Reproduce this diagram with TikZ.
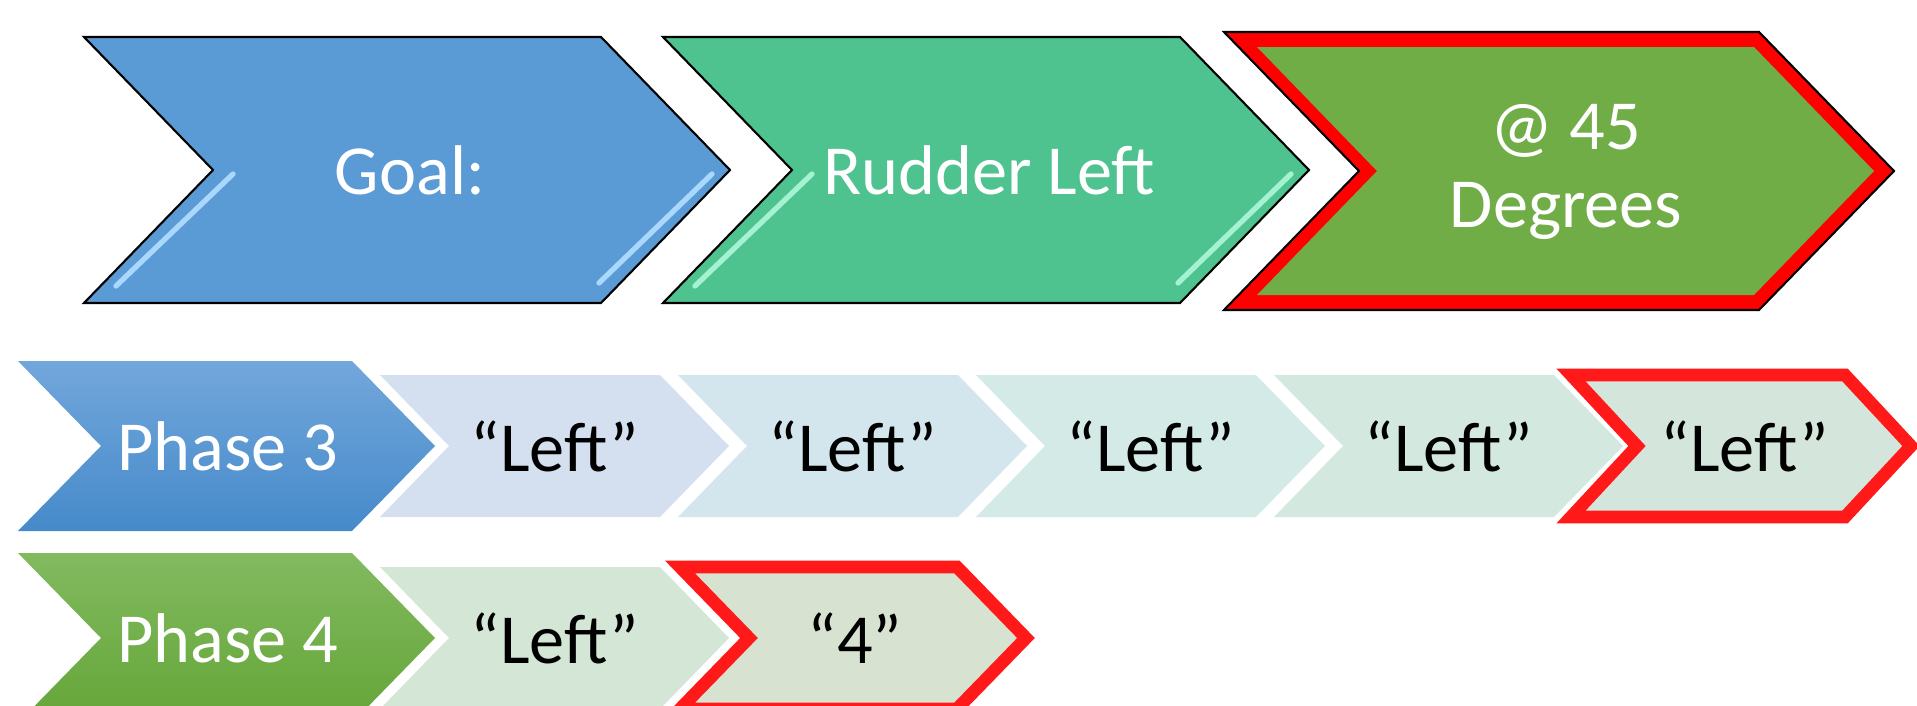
\documentclass[tikz,border=0pt]{standalone}
\usepackage{fontspec}
\setmainfont{Carlito}
\definecolor{goalblue}{RGB}{91,155,213}
\definecolor{rudgreen}{RGB}{79,195,143}
\definecolor{deggreen}{RGB}{112,173,71}
\definecolor{hlblue}{RGB}{170,216,252}
\definecolor{hlmint}{RGB}{165,242,210}
\definecolor{ph3top}{RGB}{114,167,219}
\definecolor{ph3bot}{RGB}{70,138,202}
\definecolor{ph4top}{RGB}{130,186,96}
\definecolor{ph4bot}{RGB}{100,165,55}
\definecolor{lfa}{RGB}{212,223,239}
\definecolor{lfb}{RGB}{211,229,237}
\definecolor{lfc}{RGB}{211,234,230}
\definecolor{lfd}{RGB}{211,232,223}
\definecolor{lfe}{RGB}{212,230,219}
\definecolor{lff}{RGB}{212,230,214}
\definecolor{lfg}{RGB}{215,227,208}
\definecolor{hotred}{RGB}{255,25,25}
\tikzset{
  % chevron outline: left x, centre y, full width, half height, point depth
  chev/.style n args={5}{insert path={
    (#1,{#2-#4}) -- ({#1+#3-#5},{#2-#4}) -- ({#1+#3},#2) --
    ({#1+#3-#5},{#2+#4}) -- (#1,{#2+#4}) -- ({#1+#5},#2) -- cycle}},
  bigtxt/.style={font=\fontsize{20}{22}\selectfont, text=white, align=center, inner sep=0pt},
  smalltxt/.style={font=\fontsize{20}{22}\selectfont, inner sep=0pt},
  edge/.style={draw=black, line width=0.6pt},
  gloss/.style={line width=1.5pt, line cap=round},
  redrim/.style={draw=hotred, line width=3.6pt, line join=miter},
}
\begin{document}
\begin{tikzpicture}[x=0.01cm, y=-0.01cm]
\useasboundingbox (0,0) rectangle (1917,706);
\clip (0,0) rectangle (1917,706);

% ---- top row ----
\path[fill=goalblue, edge, chev={84}{170}{646}{133}{129}];
\draw[hlblue, gloss] (233,174) -- (116,286);
\draw[hlblue, gloss] (712,174) -- (599,283);
\node[bigtxt] (goal) at (410,170) {Goal:};

\path[fill=rudgreen, edge, chev={663}{170}{646}{133}{129}];
\draw[hlmint, gloss] (812,174) -- (695,286);
\draw[hlmint, gloss] (1291,174) -- (1178,283);
\node[bigtxt] (rudder) at (989,170) {Rudder Left};

\path[fill=red, edge, chev={1224}{171}{670}{139}{135}];
\path[fill=deggreen, chev={1257}{171}{617}{124}{120}];
\node[bigtxt] (deg) at (1566,172) {@ 45\\Degrees};

% ---- phase 3 row ----
\path[top color=ph3top, bottom color=ph3bot, chev={18}{446}{417}{85}{83}];
\node[bigtxt] (ph3) at (228,446) {Phase 3};

\path[fill=lfa, chev={380}{446}{349}{71}{69}];
\node[smalltxt] (l1) at (555,446) {“Left”};
\path[fill=lfb, chev={678}{446}{349}{71}{69}];
\node[smalltxt] (l2) at (853,446) {“Left”};
\path[fill=lfc, chev={976}{446}{349}{71}{69}];
\node[smalltxt] (l3) at (1151,446) {“Left”};
\path[fill=lfd, chev={1274}{446}{349}{71}{69}];
\node[smalltxt] (l4) at (1449,446) {“Left”};
\path[fill=lfe, redrim, chev={1571}{446}{340}{71}{66}];
\node[smalltxt] (l5) at (1745,446) {“Left”};

% ---- phase 4 row ----
\path[top color=ph4top, bottom color=ph4bot, chev={18}{638}{417}{85}{83}];
\node[bigtxt] (ph4) at (228,638) {Phase 4};

\path[fill=lff, chev={380}{638}{349}{71}{69}];
\node[smalltxt] (m1) at (555,638) {“Left”};
\path[fill=lfg, redrim, chev={680}{638}{346}{71}{69}];
\node[smalltxt] (m2) at (855,638) {“4”};
\end{tikzpicture}
\end{document}
